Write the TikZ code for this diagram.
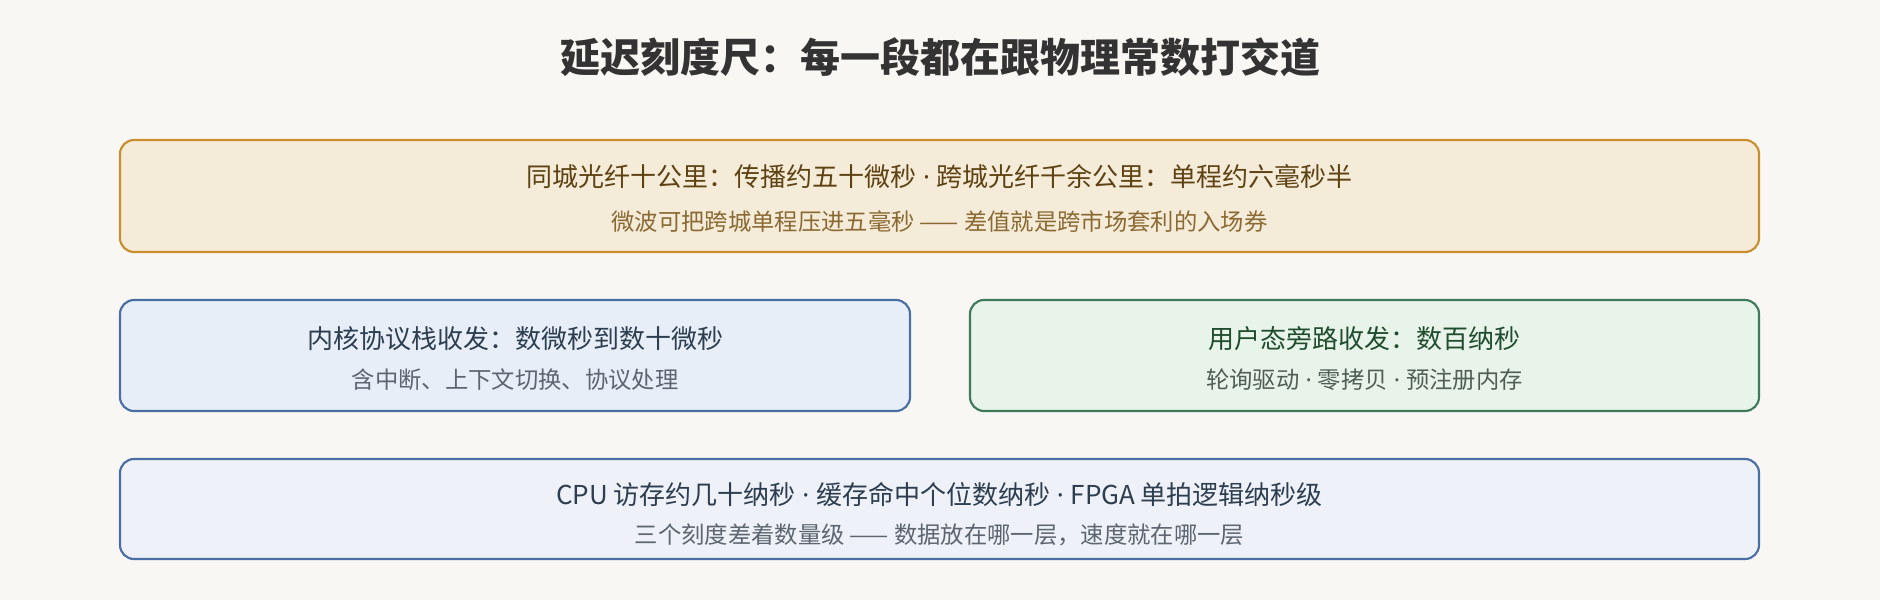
\documentclass[tikz,border=0pt]{standalone}
\usepackage{fontspec}
\setmainfont{Noto Sans CJK SC}
\newfontfamily\latinf{Noto Sans}
\newcommand{\mdot}{{\latinf\ ·\ }}
\definecolor{bg}{HTML}{F9F7F3}
\definecolor{ochreF}{HTML}{F5EBD9}
\definecolor{ochreD}{HTML}{C98F2E}
\definecolor{ochreT}{HTML}{5E4212}
\definecolor{ochreS}{HTML}{8A6A32}
\definecolor{blueF}{HTML}{E8EEF8}
\definecolor{blueD}{HTML}{4A6FA5}
\definecolor{blueT}{HTML}{2C3E50}
\definecolor{blueS}{HTML}{5C6570}
\definecolor{greenF}{HTML}{E8F3EA}
\definecolor{greenD}{HTML}{3E7B5A}
\definecolor{greenT}{HTML}{1F4D2E}
\definecolor{greenS}{HTML}{4F5F55}
\definecolor{slateF}{HTML}{EEF1F7}
\definecolor{titleC}{HTML}{333333}
\begin{document}
\begin{tikzpicture}[x=0.75pt,y=-0.75pt,
  box/.style={draw, line width=1.6pt, rounded corners=10.5pt, inner sep=0pt},
  mainline/.style={font=\fontsize{19.5pt}{23pt}\selectfont, inner sep=0pt},
  subline/.style={font=\fontsize{17.5pt}{21pt}\selectfont, inner sep=0pt},
  titlest/.style={font=\fontsize{30pt}{36pt}\selectfont\bfseries, text=titleC, inner sep=0pt}]
\useasboundingbox[fill=bg] (0,0) rectangle (1880,600);
\node[titlest] (title) at (940,57) {延迟刻度尺：每一段都在跟物理常数打交道};
% boxes
\node[box, draw=ochreD, fill=ochreF, minimum width=1229.25pt, minimum height=84pt] (top) at (939.5,196) {};
\node[box, draw=blueD, fill=blueF, minimum width=592.5pt, minimum height=83.25pt] (kern) at (515,355.5) {};
\node[box, draw=greenD, fill=greenF, minimum width=591.75pt, minimum height=83.25pt] (user) at (1364.5,355.5) {};
\node[box, draw=blueD, fill=slateF, minimum width=1229.25pt, minimum height=75pt] (hw) at (939.5,509) {};
% texts
\node[mainline, text=ochreT] (topA) at (939.5,177) {同城光纤十公里：传播约五十微秒\mdot 跨城光纤千余公里：单程约六毫秒半};
\node[subline, text=ochreS] (topB) at (939.5,222) {微波可把跨城单程压进五毫秒 —— 差值就是跨市场套利的入场券};
\node[mainline, text=blueT] (kernA) at (515,339) {内核协议栈收发：数微秒到数十微秒};
\node[subline, text=blueS] (kernB) at (515,380) {含中断、上下文切换、协议处理};
\node[mainline, text=greenT] (userA) at (1364.5,339) {用户态旁路收发：数百纳秒};
\node[subline, text=greenS] (userB) at (1364.5,380) {轮询驱动\mdot 零拷贝\mdot 预注册内存};
\node[mainline, text=blueT] (hwA) at (939.5,494) {CPU 访存约几十纳秒\mdot 缓存命中个位数纳秒\mdot FPGA 单拍逻辑纳秒级};
\node[subline, text=blueS] (hwB) at (939.5,535) {三个刻度差着数量级 —— 数据放在哪一层，速度就在哪一层};
\end{tikzpicture}
\end{document}
